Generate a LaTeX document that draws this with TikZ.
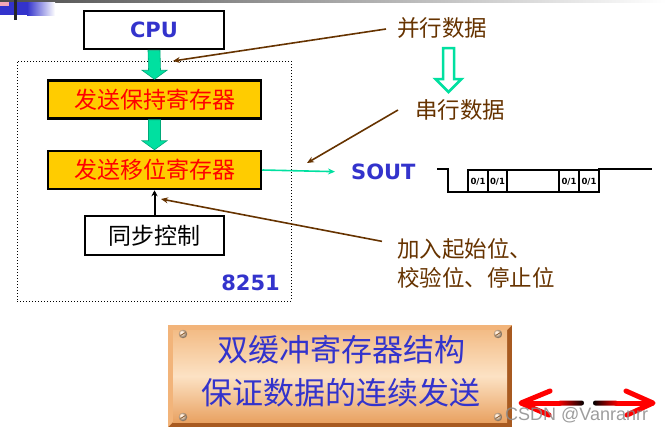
\documentclass[tikz,border=0pt]{standalone}
\usepackage{fontspec}
\setmainfont{DejaVu Sans}
\newfontfamily\cjk{Noto Sans CJK SC}
\newfontfamily\lat{DejaVu Sans}
\newfontfamily\wmfont{Liberation Sans}
\usetikzlibrary{arrows.meta}
\definecolor{boxyellow}{HTML}{FFCC00}
\definecolor{cpublue}{HTML}{3333CC}
\definecolor{brownline}{HTML}{663300}
\definecolor{mygreen}{HTML}{00E0A0}
\definecolor{mygreendark}{HTML}{00A878}
\definecolor{plaqdark}{HTML}{A85A20}
\definecolor{plaqlight}{HTML}{F2B47A}
\definecolor{plaqtop}{HTML}{F3BC86}
\definecolor{plaqmid}{HTML}{FCE2C4}
\definecolor{plaqbot}{HTML}{E9A262}
\definecolor{pinkbit}{HTML}{F4A8B8}
\tikzset{
  plainbox/.style={draw=black, line width=2.5pt, fill=white, inner sep=0pt},
  regbox/.style={plainbox, fill=boxyellow, text=red, font=\cjk\fontsize{23}{23}\selectfont,
    minimum width=213pt, minimum height=38pt},
  bluelbl/.style={text=cpublue, font=\lat\bfseries\fontsize{21}{21}\selectfont, inner sep=0pt},
  browntxt/.style={text=brownline, font=\cjk\fontsize{22.5}{29}\selectfont, inner sep=0pt},
  brownarr/.style={draw=brownline, line width=1.6pt, -{Stealth[length=7pt,width=6pt]}},
  blockarr/.style={fill=mygreen, draw=mygreendark, line width=0.6pt},
  bitlbl/.style={font=\lat\bfseries\fontsize{8.5}{8.5}\selectfont, inner sep=0pt},
  redarr/.style={draw=red, line width=5pt, line cap=round, line join=round},
}
\begin{document}
\begin{tikzpicture}[x=1pt,y=-1pt]
\useasboundingbox (0,0) rectangle (666,432);
% top decoration
\shade[left color=black!70, right color=white] (0,0) rectangle (666,2);
\fill[cpublue] (0,2) rectangle (27,15);
\shade[left color=cpublue, right color=white] (27,2) rectangle (55,15);
\fill[pinkbit] (0,2) rectangle (9,6);
\fill[black!85] (14,0) rectangle (17,20);

% chip outline
\node[draw, dotted, line width=1pt, minimum width=274pt, minimum height=240pt, inner sep=0pt] (chip) at (154,181) {};

% boxes
\node[plainbox, minimum width=140pt, minimum height=38pt, bluelbl] (cpu) at (154,30) {CPU};
\node[regbox] (hold) at (154.5,99.5) {发送保持寄存器};
\node[regbox] (shift) at (154.5,170) {发送移位寄存器};
\node[plainbox, minimum width=139pt, minimum height=39pt, font=\cjk\fontsize{23}{23}\selectfont] (sync) at (154.5,235.5) {同步控制};
\node[bluelbl] (t8251) at (250.5,283) {8251};

% green block arrows
\draw[blockarr] ([xshift=-6pt]cpu.south) -- ([xshift=-6pt,yshift=9pt]hold.north)
  -- ([xshift=-12.5pt,yshift=9pt]hold.north) -- (hold.north)
  -- ([xshift=12.5pt,yshift=9pt]hold.north) -- ([xshift=6pt,yshift=9pt]hold.north)
  -- ([xshift=6pt]cpu.south) -- cycle;
\draw[blockarr] ([xshift=-6pt]hold.south) -- ([xshift=-6pt,yshift=9pt]shift.north)
  -- ([xshift=-12.5pt,yshift=9pt]shift.north) -- (shift.north)
  -- ([xshift=12.5pt,yshift=9pt]shift.north) -- ([xshift=6pt,yshift=9pt]shift.north)
  -- ([xshift=6pt]hold.south) -- cycle;

% sync -> shift
\draw[line width=2pt, -{Stealth[length=6pt,width=6pt]}] (sync.north) -- (shift.south);

% right side labels
\node[browntxt, anchor=west] (par) at (397,28) {并行数据};
\node[browntxt, anchor=west] (ser) at (415,110) {串行数据};
\node[browntxt, anchor=west, align=left] (add) at (397,263.5) {加入起始位、\\校验位、停止位};
\node[bluelbl, anchor=west] (sout) at (351,172) {SOUT};

% hollow arrow
\draw[draw=mygreen, line width=2.5pt, fill=white, line join=miter]
  (443,48) -- (443,79) -- (435.5,79) -- (448.5,92) -- (461.5,79) -- (454,79) -- (454,48) -- cycle;

% brown pointer arrows
\coordinate (pA) at (173,61);
\coordinate (pB) at (307,163);
\coordinate (pC) at (161,199);
\draw[brownarr] ([xshift=-11pt,yshift=-1pt]par.west) -- (pA);
\draw[brownarr] ([xshift=-17pt]ser.west) -- (pB);
\draw[brownarr] ([xshift=-15pt,yshift=-3pt]add.north west) -- (pC);

% shift -> SOUT
\draw[draw=mygreen, line width=1.6pt, -{Stealth[length=7pt,width=6pt]}, shorten >=16pt] (shift.east) -- (sout.west);

% waveform
\draw[line width=2pt, line join=miter] (437,169) -- (448,169) -- (448,192) -- (599,192) -- (599,169) -- (652,169);
\draw[line width=2pt] (468,170) rectangle (599,192);
\foreach \xx in {488,507,559,579} \draw[line width=2pt] (\xx,170) -- (\xx,192);
\node[bitlbl] (b1) at (478,181.5) {0/1};
\node[bitlbl] (b2) at (497.5,181.5) {0/1};
\node[bitlbl] (b3) at (569,181.5) {0/1};
\node[bitlbl] (b4) at (589,181.5) {0/1};

% plaque
\fill[plaqdark] (168,325) rectangle (512,427);
\fill[plaqlight] (168,325) -- (512,325) -- (507,330) -- (173,330) -- (173,422) -- (168,427) -- cycle;
\shade[top color=plaqtop, bottom color=plaqbot, middle color=plaqmid] (173,330) rectangle (507,422);
\foreach \sx/\sy in {183/334, 498/334, 183/417, 498/417} {
  \shade[ball color=orange!25] (\sx,\sy) circle (4.2pt);
  \draw[brown!70!black, line width=0.8pt] (\sx-2.5,\sy+1.5) -- (\sx+2.5,\sy-1.5);
}
\node[text=cpublue, font=\cjk\fontsize{31}{43}\selectfont, align=center, inner sep=0pt] (plaque) at (341,371.5) {双缓冲寄存器结构\\保证数据的连续发送};

% red navigation arrows
\draw[redarr] (560,403) -- (522,403);
\draw[redarr] (550,391) -- (521,403) -- (549,415);
\shade[left color=red, right color=black, rounded corners=2.4pt] (558,400.5) rectangle (584,405.5);
\draw[redarr] (616,403) -- (652,403);
\draw[redarr] (626,391) -- (653,403) -- (627,415);
\shade[left color=black, right color=red, rounded corners=2.4pt] (593,400.5) rectangle (618,405.5);

% watermark
\node[text=black!45, opacity=0.85, font=\wmfont\fontsize{18}{18}\selectfont, inner sep=0pt, anchor=west] (wm) at (505,415) {CSDN @Vanranrr};
\end{tikzpicture}
\end{document}
